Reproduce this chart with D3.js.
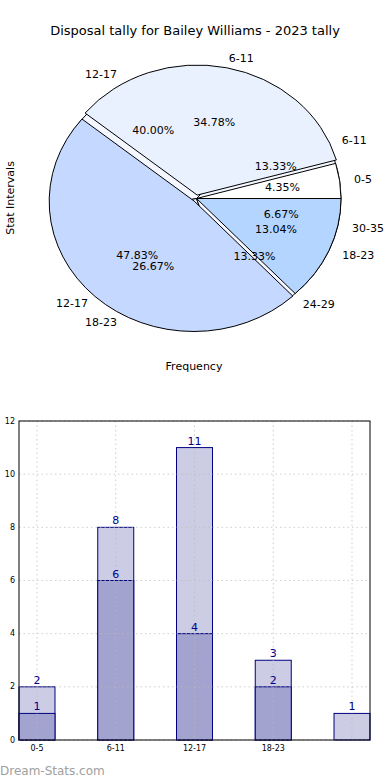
<!DOCTYPE html>
<html>
<head>
<meta charset="utf-8">
<script src="https://cdn.jsdelivr.net/npm/d3@7"></script>
<style>
  body { margin: 0; background: #fff; }
  text { font-family: "DejaVu Sans", sans-serif; }
</style>
</head>
<body>
<div id="chart"></div>
<script>
// pie data (two pies drawn on top of each other)
const pieLabelsA = ["0-5", "6-11", "12-17", "18-23"];
const pieValuesA = [1, 8, 11, 3];
const pieColorsA = ["#ffffff", "#e9f0fe", "#c5d8ff", "#b4d5ff"];
const pieLabelsB = ["6-11", "12-17", "18-23", "24-29", "30-35"];
const pieValuesB = [2, 6, 4, 2, 1];

// bar data
const barCategories = ["0-5", "6-11", "12-17", "18-23", ""];
const lightValues = [2, 8, 11, 3, 1];
const darkValues = [1, 6, 4, 2, null];
const yTicks = [0, 2, 4, 6, 8, 10, 12];

const W = 390, H = 780;
const svg = d3.select("#chart").append("svg")
  .attr("width", W)
  .attr("height", H);

// title and labels
svg.append("text").attr("x", 195).attr("y", 35)
  .attr("text-anchor", "middle").attr("font-size", 13).text("Disposal tally for Bailey Williams - 2023 tally");
svg.append("text").attr("transform", "translate(14,198) rotate(-90)")
  .attr("text-anchor", "middle").attr("font-size", 11).text("Stat Intervals");
svg.append("text").attr("x", 194).attr("y", 370)
  .attr("text-anchor", "middle").attr("font-size", 11).text("Frequency");

// ---- pie ----
const cx = 196.5, cy = 198.5, rx = 144.5, ry = 130;
const pie = d3.pie().sort(null).startAngle(Math.PI / 2).endAngle(Math.PI / 2 - 2 * Math.PI);
const arc = d3.arc().innerRadius(0).outerRadius(1);
const pct = d3.format(".2f");

const arcsA = pie(pieValuesA);
const arcsB = pie(pieValuesB);
const totalA = d3.sum(pieValuesA), totalB = d3.sum(pieValuesB);
const explodeA = [0, 3.5, 3.5, 0];

function mid(d) { return (d.startAngle + d.endAngle) / 2; }

// shadow of the lower pie
svg.append("g")
  .attr("transform", `translate(${cx - 2.5},${cy + 2.5}) scale(${rx},${ry})`)
  .selectAll("path").data(arcsB).join("path")
  .attr("d", arc).attr("fill", "#555").attr("opacity", 0.6);

// lower pie
svg.append("g")
  .attr("transform", `translate(${cx},${cy}) scale(${rx},${ry})`)
  .selectAll("path").data(arcsB).join("path")
  .attr("d", arc).attr("fill", "#f4f7ff")
  .attr("stroke", "#000").attr("stroke-width", 1)
  .attr("vector-effect", "non-scaling-stroke");

// upper pie
svg.append("g").selectAll("g").data(arcsA).join("g")
  .attr("transform", (d, i) => {
    const e = explodeA[i], m = mid(d);
    return `translate(${cx + e * Math.sin(m)},${cy - e * Math.cos(m)}) scale(${rx},${ry})`;
  })
  .append("path")
  .attr("d", arc)
  .attr("fill", (d, i) => pieColorsA[i])
  .attr("stroke", "#000").attr("stroke-width", 1)
  .attr("vector-effect", "non-scaling-stroke");

// labels for both pies
function pieText(arcs, labels, total) {
  arcs.forEach((d, i) => {
    const m = mid(d), s = Math.sin(m), c = Math.cos(m);
    svg.append("text")
      .attr("x", cx + 1.1 * rx * s).attr("y", cy - 1.1 * ry * c)
      .attr("text-anchor", s > 0 ? "start" : "end")
      .attr("dominant-baseline", "central")
      .attr("font-size", 11).text(labels[i]);
    svg.append("text")
      .attr("x", cx + 0.6 * rx * s).attr("y", cy - 0.6 * ry * c)
      .attr("text-anchor", "middle")
      .attr("dominant-baseline", "central")
      .attr("font-size", 11).text(pct(d.data / total * 100) + "%");
  });
}
pieText(arcsA, pieLabelsA, totalA);
pieText(arcsB, pieLabelsB, totalB);

// ---- bar chart ----
const plotLeft = 19, plotRight = 370, plotTop = 421, plotBottom = 740;
const bw = 0.457;
const x = d3.scaleLinear().domain([-bw / 2, barCategories.length - 1 + bw / 2]).range([plotLeft, plotRight]);
const y = d3.scaleLinear().domain([0, 12]).range([plotBottom, plotTop]);

const grid = svg.append("g");
grid.selectAll(".gy").data(yTicks).join("line")
  .attr("x1", plotLeft).attr("x2", plotRight)
  .attr("y1", d => y(d)).attr("y2", d => y(d))
  .attr("stroke", "#bbb").attr("stroke-dasharray", "1.5,3");
grid.selectAll(".gx").data(barCategories).join("line")
  .attr("x1", (d, i) => x(i)).attr("x2", (d, i) => x(i))
  .attr("y1", plotTop).attr("y2", plotBottom)
  .attr("stroke", "#bbb").attr("stroke-dasharray", "1.5,3");

svg.append("g").selectAll("rect").data(lightValues).join("rect")
  .attr("x", (d, i) => x(i - bw / 2)).attr("width", x(bw) - x(0))
  .attr("y", d => y(d)).attr("height", d => plotBottom - y(d))
  .attr("fill", "#ccccE4").attr("stroke", "#000080").attr("stroke-width", 1);

const darkData = darkValues.map((v, i) => ({ v, i })).filter(d => d.v != null);
svg.append("g").selectAll("rect").data(darkData).join("rect")
  .attr("x", d => x(d.i - bw / 2)).attr("width", x(bw) - x(0))
  .attr("y", d => y(d.v)).attr("height", d => plotBottom - y(d.v))
  .attr("fill", "#a3a3d0").attr("stroke", "#000080").attr("stroke-width", 1);

// grid shows through bars faintly
grid.raise().attr("opacity", 0.7);

svg.append("g").selectAll("text").data(lightValues).join("text")
  .attr("x", (d, i) => x(i)).attr("y", d => y(d) - 3)
  .attr("text-anchor", "middle").attr("font-size", 11).attr("fill", "#00008b")
  .text(d => d);
svg.append("g").selectAll("text").data(darkData).join("text")
  .attr("x", d => x(d.i)).attr("y", d => y(d.v) - 3)
  .attr("text-anchor", "middle").attr("font-size", 11).attr("fill", "#00008b")
  .text(d => d.v);

// frame
svg.append("rect").attr("x", plotLeft).attr("y", plotTop)
  .attr("width", plotRight - plotLeft).attr("height", plotBottom - plotTop)
  .attr("fill", "none").attr("stroke", "#000").attr("stroke-width", 1);

// axes tick labels
svg.append("g").selectAll("text").data(yTicks).join("text")
  .attr("x", 15).attr("y", d => y(d))
  .attr("text-anchor", "end").attr("dominant-baseline", "central")
  .attr("font-size", 8).text(d => d);
svg.append("g").selectAll("text").data(barCategories).join("text")
  .attr("x", (d, i) => x(i)).attr("y", 751)
  .attr("text-anchor", "middle").attr("font-size", 8).text(d => d);

// watermark
svg.append("text").attr("x", 0).attr("y", 775)
  .attr("font-size", 12).attr("fill", "#a0a0a0")
  .text("Dream-Stats.com");
</script>
</body>
</html>
